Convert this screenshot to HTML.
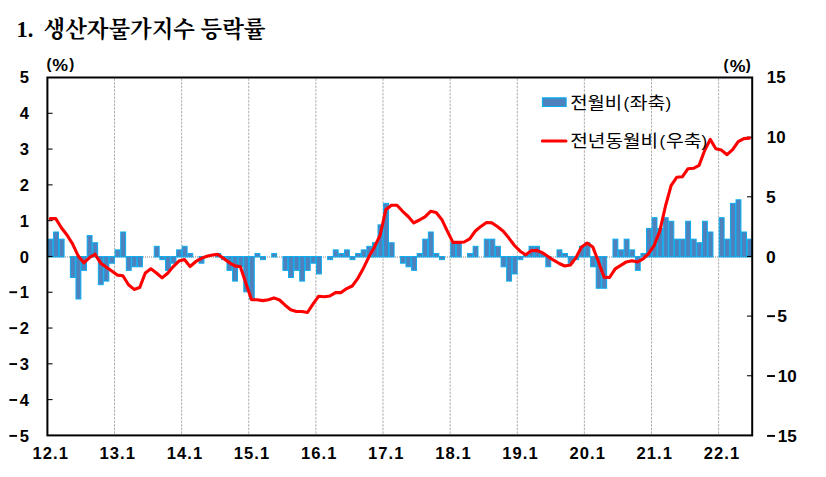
<!DOCTYPE html>
<html lang="ko"><head><meta charset="utf-8"><title>생산자물가지수 등락률</title>
<style>
html,body{margin:0;padding:0;background:#fff;}
body{width:826px;height:477px;overflow:hidden;font-family:"Liberation Sans",sans-serif;}
svg{display:block;}
.ax{font-family:"Liberation Sans",sans-serif;font-weight:bold;font-size:16.6px;fill:#000;}
.lg{font-family:"Liberation Sans","Noto Sans CJK KR",sans-serif;font-size:17px;fill:#000;}
.tt{font-family:"Liberation Serif","Noto Serif CJK SC","Noto Sans CJK KR",serif;font-weight:bold;font-size:22.4px;fill:#000;}
</style></head><body>
<svg width="826" height="477" viewBox="0 0 826 477">
<rect width="826" height="477" fill="#fff"/>
<g id="title">
<text class="tt" x="16.5" y="37.1">1.</text>
<text class="tt" x="43.5" y="37.3" textLength="222" lengthAdjust="spacingAndGlyphs">생산자물가지수 등락률</text>
</g>
<g id="grid" stroke="#adadad" stroke-width="1" stroke-dasharray="2.4 1.2" fill="none">
<line x1="114.52" y1="78.5" x2="114.52" y2="434.4"/>
<line x1="181.65" y1="78.5" x2="181.65" y2="434.4"/>
<line x1="248.77" y1="78.5" x2="248.77" y2="434.4"/>
<line x1="315.9" y1="78.5" x2="315.9" y2="434.4"/>
<line x1="383.02" y1="78.5" x2="383.02" y2="434.4"/>
<line x1="450.14" y1="78.5" x2="450.14" y2="434.4"/>
<line x1="517.27" y1="78.5" x2="517.27" y2="434.4"/>
<line x1="584.39" y1="78.5" x2="584.39" y2="434.4"/>
<line x1="651.51" y1="78.5" x2="651.51" y2="434.4"/>
<line x1="718.64" y1="78.5" x2="718.64" y2="434.4"/>
</g>
<line id="zero" x1="49" y1="257" x2="751.2" y2="257" stroke="#858585" stroke-width="1" stroke-dasharray="1 1"/>
<g id="bars" fill="#4f81bd" stroke="#0aadee" stroke-width="1">
<rect x="48" y="239.16" width="4.89" height="17.79"/>
<rect x="53.59" y="232" width="4.89" height="24.95"/>
<rect x="59.19" y="239.16" width="4.89" height="17.79"/>
<rect x="70.37" y="256.55" width="4.89" height="20.97"/>
<rect x="75.97" y="256.55" width="4.89" height="42.45"/>
<rect x="81.56" y="256.55" width="4.89" height="13.82"/>
<rect x="87.16" y="235.58" width="4.89" height="21.37"/>
<rect x="92.75" y="242.73" width="4.89" height="14.22"/>
<rect x="98.34" y="256.55" width="4.89" height="28.13"/>
<rect x="103.94" y="256.55" width="4.89" height="24.55"/>
<rect x="109.53" y="256.55" width="4.89" height="6.66"/>
<rect x="115.12" y="249.89" width="4.89" height="7.06"/>
<rect x="120.72" y="232" width="4.89" height="24.95"/>
<rect x="126.31" y="256.55" width="4.89" height="13.82"/>
<rect x="131.9" y="256.55" width="4.89" height="10.24"/>
<rect x="137.5" y="256.55" width="4.89" height="10.24"/>
<rect x="154.28" y="246.31" width="4.89" height="10.64"/>
<rect x="159.87" y="256.55" width="4.89" height="3.08"/>
<rect x="165.47" y="256.55" width="4.89" height="13.82"/>
<rect x="171.06" y="256.55" width="4.89" height="6.66"/>
<rect x="176.65" y="249.89" width="4.89" height="7.06"/>
<rect x="182.25" y="246.31" width="4.89" height="10.64"/>
<rect x="187.84" y="253.47" width="4.89" height="3.48"/>
<rect x="199.03" y="256.55" width="4.89" height="6.66"/>
<rect x="215.81" y="253.47" width="4.89" height="3.48"/>
<rect x="221.4" y="256.55" width="4.89" height="3.08"/>
<rect x="227" y="256.55" width="4.89" height="13.82"/>
<rect x="232.59" y="256.55" width="4.89" height="24.55"/>
<rect x="238.18" y="256.55" width="4.89" height="10.24"/>
<rect x="243.78" y="256.55" width="4.89" height="35.29"/>
<rect x="249.37" y="256.55" width="4.89" height="42.45"/>
<rect x="254.97" y="253.47" width="4.89" height="3.48"/>
<rect x="260.56" y="256.55" width="4.89" height="3.08"/>
<rect x="271.75" y="253.47" width="4.89" height="3.48"/>
<rect x="282.93" y="256.55" width="4.89" height="13.82"/>
<rect x="288.53" y="256.55" width="4.89" height="20.97"/>
<rect x="294.12" y="256.55" width="4.89" height="13.82"/>
<rect x="299.71" y="256.55" width="4.89" height="24.55"/>
<rect x="305.31" y="256.55" width="4.89" height="13.82"/>
<rect x="310.9" y="256.55" width="4.89" height="6.66"/>
<rect x="316.5" y="256.55" width="4.89" height="17.39"/>
<rect x="327.68" y="256.55" width="4.89" height="3.08"/>
<rect x="333.28" y="249.89" width="4.89" height="7.06"/>
<rect x="338.87" y="253.47" width="4.89" height="3.48"/>
<rect x="344.46" y="249.89" width="4.89" height="7.06"/>
<rect x="350.06" y="256.55" width="4.89" height="3.08"/>
<rect x="355.65" y="253.47" width="4.89" height="3.48"/>
<rect x="361.24" y="249.89" width="4.89" height="7.06"/>
<rect x="366.84" y="246.31" width="4.89" height="10.64"/>
<rect x="372.43" y="242.73" width="4.89" height="14.22"/>
<rect x="378.03" y="224.84" width="4.89" height="32.11"/>
<rect x="383.62" y="203.37" width="4.89" height="53.59"/>
<rect x="389.21" y="242.73" width="4.89" height="14.22"/>
<rect x="400.4" y="256.55" width="4.89" height="6.66"/>
<rect x="405.99" y="256.55" width="4.89" height="10.24"/>
<rect x="411.59" y="256.55" width="4.89" height="13.82"/>
<rect x="417.18" y="253.47" width="4.89" height="3.48"/>
<rect x="422.77" y="239.16" width="4.89" height="17.79"/>
<rect x="428.37" y="232" width="4.89" height="24.95"/>
<rect x="433.96" y="253.47" width="4.89" height="3.48"/>
<rect x="439.56" y="256.55" width="4.89" height="3.08"/>
<rect x="450.74" y="242.73" width="4.89" height="14.22"/>
<rect x="456.34" y="242.73" width="4.89" height="14.22"/>
<rect x="467.52" y="253.47" width="4.89" height="3.48"/>
<rect x="473.12" y="246.31" width="4.89" height="10.64"/>
<rect x="484.3" y="239.16" width="4.89" height="17.79"/>
<rect x="489.9" y="239.16" width="4.89" height="17.79"/>
<rect x="495.49" y="246.31" width="4.89" height="10.64"/>
<rect x="501.09" y="256.55" width="4.89" height="10.24"/>
<rect x="506.68" y="256.55" width="4.89" height="24.55"/>
<rect x="512.27" y="256.55" width="4.89" height="17.39"/>
<rect x="517.87" y="256.55" width="4.89" height="3.08"/>
<rect x="523.46" y="253.47" width="4.89" height="3.48"/>
<rect x="529.05" y="246.31" width="4.89" height="10.64"/>
<rect x="534.65" y="246.31" width="4.89" height="10.64"/>
<rect x="540.24" y="253.47" width="4.89" height="3.48"/>
<rect x="545.83" y="256.55" width="4.89" height="10.24"/>
<rect x="557.02" y="249.89" width="4.89" height="7.06"/>
<rect x="562.62" y="253.47" width="4.89" height="3.48"/>
<rect x="568.21" y="256.55" width="4.89" height="6.66"/>
<rect x="573.8" y="256.55" width="4.89" height="3.08"/>
<rect x="579.4" y="246.31" width="4.89" height="10.64"/>
<rect x="584.99" y="242.73" width="4.89" height="14.22"/>
<rect x="590.58" y="256.55" width="4.89" height="10.24"/>
<rect x="596.18" y="256.55" width="4.89" height="31.71"/>
<rect x="601.77" y="256.55" width="4.89" height="31.71"/>
<rect x="612.96" y="239.16" width="4.89" height="17.79"/>
<rect x="618.55" y="249.89" width="4.89" height="7.06"/>
<rect x="624.15" y="239.16" width="4.89" height="17.79"/>
<rect x="629.74" y="249.89" width="4.89" height="7.06"/>
<rect x="635.33" y="256.55" width="4.89" height="13.82"/>
<rect x="640.93" y="253.47" width="4.89" height="3.48"/>
<rect x="646.52" y="228.42" width="4.89" height="28.53"/>
<rect x="652.11" y="217.68" width="4.89" height="39.27"/>
<rect x="657.71" y="228.42" width="4.89" height="28.53"/>
<rect x="663.3" y="217.68" width="4.89" height="39.27"/>
<rect x="668.9" y="221.26" width="4.89" height="35.69"/>
<rect x="674.49" y="239.16" width="4.89" height="17.79"/>
<rect x="680.08" y="239.16" width="4.89" height="17.79"/>
<rect x="685.68" y="221.26" width="4.89" height="35.69"/>
<rect x="691.27" y="239.16" width="4.89" height="17.79"/>
<rect x="696.86" y="242.73" width="4.89" height="14.22"/>
<rect x="702.46" y="221.26" width="4.89" height="35.69"/>
<rect x="708.05" y="232" width="4.89" height="24.95"/>
<rect x="719.24" y="217.68" width="4.89" height="39.27"/>
<rect x="724.83" y="239.16" width="4.89" height="17.79"/>
<rect x="730.43" y="203.37" width="4.89" height="53.59"/>
<rect x="736.02" y="199.79" width="4.89" height="57.16"/>
<rect x="741.61" y="232" width="4.89" height="24.95"/>
<rect x="747.21" y="239.16" width="4.89" height="17.79"/>
</g>
<g id="ticks" stroke="#000" stroke-width="1.05" fill="none">
<line x1="47.4" y1="113.29" x2="52.6" y2="113.29"/>
<line x1="47.4" y1="149.08" x2="52.6" y2="149.08"/>
<line x1="47.4" y1="184.87" x2="52.6" y2="184.87"/>
<line x1="47.4" y1="220.66" x2="52.6" y2="220.66"/>
<line x1="47.4" y1="256.45" x2="52.6" y2="256.45"/>
<line x1="47.4" y1="292.24" x2="52.6" y2="292.24"/>
<line x1="47.4" y1="328.03" x2="52.6" y2="328.03"/>
<line x1="47.4" y1="363.82" x2="52.6" y2="363.82"/>
<line x1="47.4" y1="399.61" x2="52.6" y2="399.61"/>
<line x1="747" y1="137.15" x2="752.2" y2="137.15"/>
<line x1="747" y1="196.8" x2="752.2" y2="196.8"/>
<line x1="747" y1="256.45" x2="752.2" y2="256.45"/>
<line x1="747" y1="316.1" x2="752.2" y2="316.1"/>
<line x1="747" y1="375.75" x2="752.2" y2="375.75"/>
</g>
<rect id="border" x="47.4" y="77.5" width="704.8" height="357.9" stroke="#000" stroke-width="2" fill="none"/>
<polyline id="yoy" points="50.2,218.6 55.79,218.6 61.38,227.7 66.98,235 72.57,243.8 78.17,255.8 83.76,262.9 89.35,257.8 94.95,254.2 100.54,262.9 106.13,266.9 111.73,271.1 117.32,275.1 122.91,275.7 128.51,284.8 134.1,289.4 139.7,287.6 145.29,273 150.88,268.8 156.48,273 162.07,277.9 167.66,273.3 173.26,266.6 178.85,261.1 184.44,259.5 190.04,266.5 195.63,261.7 201.23,258.4 206.82,256.2 212.41,255 218.01,254.4 223.6,258.4 229.19,262.6 234.79,265.9 240.38,266.8 245.97,283.6 251.57,299.7 257.16,299.7 262.76,300.6 268.35,299.7 273.94,297.9 279.54,300 285.13,305.2 290.72,309.7 296.32,311.5 301.91,311.5 307.5,312.5 313.1,303.9 318.69,296.2 324.29,296.8 329.88,296 335.47,292.6 341.07,292.6 346.66,288.6 352.25,286 357.85,278.3 363.44,268.2 369.03,256.6 374.63,246.7 380.22,235 385.82,209.7 391.41,205.2 397,205.2 402.6,211.3 408.19,216.5 413.78,222.9 419.38,220 424.97,216.9 430.57,211.3 436.16,212.6 441.75,219.4 447.35,231.1 452.94,242.4 458.53,242.4 464.13,242 469.72,238.8 475.31,231 480.91,226.4 486.5,222.5 492.1,222.9 497.69,226.8 503.28,231.3 508.88,238.1 514.47,245.5 520.06,251.2 525.66,254.7 531.25,250.8 536.84,250.4 542.44,252.7 548.03,256.6 553.63,260.2 559.22,263.5 564.81,266 570.41,265 576,257.6 581.59,246.9 587.19,243 592.78,246.9 598.37,261.5 603.97,277.1 609.56,277.5 615.16,268.9 620.75,265.4 626.34,261.9 631.94,260.7 637.53,262 643.12,258.9 648.72,253.4 654.31,245.2 659.9,230.6 665.5,206 671.09,185.6 676.69,177.3 682.28,176.8 687.87,168.8 693.47,168.3 699.06,165.4 704.65,150.5 710.25,139.4 715.84,148.8 721.43,150.1 727.03,154.7 732.62,149.6 738.22,141.6 743.81,138.6 749.4,138.1" fill="none" stroke="#ff0000" stroke-width="3.1" stroke-linejoin="round" stroke-linecap="round"/>
<g id="ylabels" class="ax">
<text x="28.9" y="82.9" text-anchor="end">5</text>
<text x="28.9" y="118.82" text-anchor="end">4</text>
<text x="28.9" y="154.74" text-anchor="end">3</text>
<text x="28.9" y="190.66" text-anchor="end">2</text>
<text x="28.9" y="226.58" text-anchor="end">1</text>
<text x="28.9" y="262.5" text-anchor="end">0</text>
<text x="28.9" y="298.42" text-anchor="end">1</text>
<rect x="9.4" y="291.27" width="7.7" height="1.9" fill="#000"/>
<text x="28.9" y="334.34" text-anchor="end">2</text>
<rect x="9.4" y="327.19" width="7.7" height="1.9" fill="#000"/>
<text x="28.9" y="370.26" text-anchor="end">3</text>
<rect x="9.4" y="363.11" width="7.7" height="1.9" fill="#000"/>
<text x="28.9" y="406.18" text-anchor="end">4</text>
<rect x="9.4" y="399.03" width="7.7" height="1.9" fill="#000"/>
<text x="28.9" y="442.1" text-anchor="end">5</text>
<rect x="9.4" y="434.95" width="7.7" height="1.9" fill="#000"/>
<text x="766.8" y="82.9" textLength="18.8" lengthAdjust="spacingAndGlyphs">15</text>
<text x="766.8" y="142.77" textLength="18.8" lengthAdjust="spacingAndGlyphs">10</text>
<text x="765.9" y="202.63" textLength="9.7" lengthAdjust="spacingAndGlyphs">5</text>
<text x="765.9" y="262.5" textLength="9.7" lengthAdjust="spacingAndGlyphs">0</text>
<rect x="767.1" y="315.22" width="7.9" height="1.9" fill="#000"/>
<text x="777.2" y="322.37" textLength="9.7" lengthAdjust="spacingAndGlyphs">5</text>
<rect x="767.1" y="375.08" width="7.9" height="1.9" fill="#000"/>
<text x="777.8" y="382.23" textLength="19" lengthAdjust="spacingAndGlyphs">10</text>
<rect x="767.1" y="434.95" width="7.9" height="1.9" fill="#000"/>
<text x="777.8" y="442.1" textLength="19" lengthAdjust="spacingAndGlyphs">15</text>
<text x="46.5" y="69.2" style="font-size:15px">(</text>
<text transform="translate(52.3,71.2) scale(1.07,0.95)">%</text>
<text x="69.3" y="69.2" style="font-size:15px">)</text>
<text x="723.4" y="69.5" style="font-size:15px">(</text>
<text transform="translate(729.7,71.5) scale(1.07,0.95)">%</text>
<text x="745.8" y="69.5" style="font-size:15px">)</text>
</g>
<g id="xlabels" class="ax" text-anchor="middle" style="letter-spacing:1.05px">
<text x="50.7" y="459.1">12.1</text>
<text x="117.82" y="459.1">13.1</text>
<text x="184.94" y="459.1">14.1</text>
<text x="252.07" y="459.1">15.1</text>
<text x="319.19" y="459.1">16.1</text>
<text x="386.32" y="459.1">17.1</text>
<text x="453.44" y="459.1">18.1</text>
<text x="520.56" y="459.1">19.1</text>
<text x="587.69" y="459.1">20.1</text>
<text x="654.81" y="459.1">21.1</text>
<text x="721.93" y="459.1">22.1</text>
</g>
<g id="legend">
<rect x="542.5" y="97.8" width="23.6" height="8.7" fill="#4f81bd" stroke="#0aadee" stroke-width="1.2" stroke-linejoin="round"/>
<text class="lg" x="570.2" y="109.1" textLength="52" lengthAdjust="spacingAndGlyphs">전월비</text>
<text class="lg" x="629.8" y="109.1" textLength="35.5" lengthAdjust="spacingAndGlyphs">좌축</text>
<text class="lg" x="623.5" y="109.1">(</text><text class="lg" x="665.4" y="109.1">)</text>
<line x1="542.4" y1="141" x2="565.9" y2="141" stroke="#ff0000" stroke-width="3.2" stroke-linecap="round"/>
<text class="lg" x="570.2" y="147.1" textLength="88" lengthAdjust="spacingAndGlyphs">전년동월비</text>
<text class="lg" x="665.9" y="147.1" textLength="35.5" lengthAdjust="spacingAndGlyphs">우축</text>
<text class="lg" x="659.6" y="147.1">(</text><text class="lg" x="701.5" y="147.1">)</text>
</g>
</svg></body></html>
